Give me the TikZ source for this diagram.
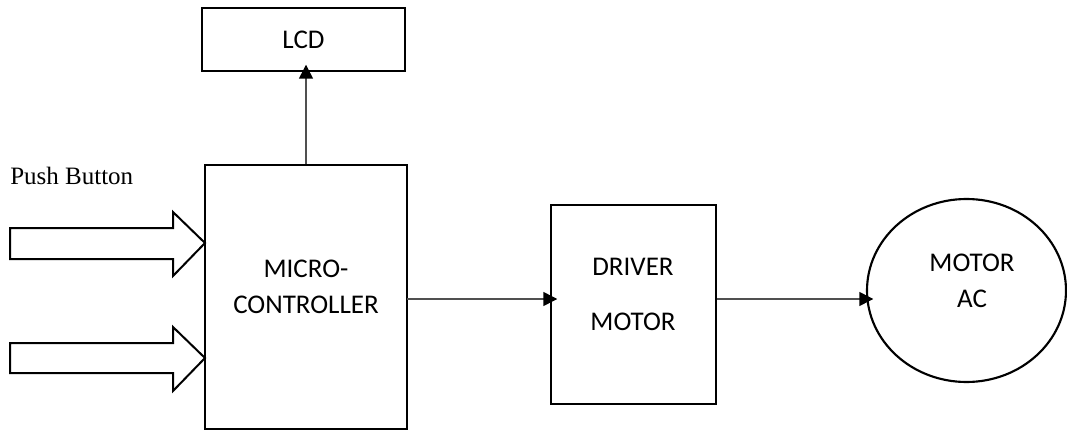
\documentclass[tikz,border=0pt]{standalone}
\usepackage{fontspec}
\setmainfont{Carlito}
\newfontfamily\seriffont{Liberation Serif}
\usetikzlibrary{arrows.meta,shapes.geometric}
\tikzset{
  blk/.style={draw=black, line width=1.6pt, inner sep=0pt},
  lbl/.style={font=\fontsize{20.25}{27}\selectfont, align=center, inner sep=0pt},
  conn/.style={draw={rgb,255:red,80;green,80;blue,80}, line width=1.1pt,
    -{Triangle[length=10.5pt,width=10.5pt,color=black]}, shorten >=-5.5pt},
  bigarrow/.style={draw=black, line width=1.5pt, fill=white, line join=miter}
}
\begin{document}
\begin{tikzpicture}[x=0.75pt,y=-0.75pt]
\useasboundingbox (0,0) rectangle (1067,431);
% boxes
\node[blk, rectangle, minimum width=152.25pt, minimum height=47.25pt] (lcd) at (303.5,39.5) {};
\node[blk, rectangle, minimum width=151.5pt, minimum height=198pt] (mc) at (306,297) {};
\node[blk, rectangle, minimum width=123.75pt, minimum height=149.25pt] (drv) at (633.5,304.5) {};
\node[blk, ellipse, minimum width=149.25pt, minimum height=137.25pt] (motor) at (966.5,290.5) {};
% texts
\node[lbl] (lcdt) at (303.5,39.5) {LCD};
\node[lbl] (mct) at (306,287) {MICRO-\\CONTROLLER};
\node[lbl] (drvt) at (633,294.5) {DRIVER\\[14.25pt]MOTOR};
\node[lbl] (motort) at (972,280.5) {MOTOR\\AC};
\node[font=\seriffont\fontsize{18.75}{22}\selectfont, anchor=base west, inner sep=0pt] (pb) at (10,185) {Push Button};
% block arrows (push button inputs)
\coordinate (in1) at (205,243);
\coordinate (in2) at (205,358);
\draw[bigarrow] (10,228) -- (173,228) -- (173,212) -- (in1) -- (173,276) -- (173,259) -- (10,259) -- cycle;
\draw[bigarrow] (10,343) -- (173,343) -- (173,327) -- (in2) -- (173,391) -- (173,373) -- (10,373) -- cycle;
% connectors
\coordinate (r1) at (407,299);
\draw[conn] (mc.north) -- (mc.north |- lcd.south);
\draw[conn] (r1) -- (r1 -| drv.west);
\draw[conn] (drv.east |- r1) -- (motor.west |- r1);
\end{tikzpicture}
\end{document}
